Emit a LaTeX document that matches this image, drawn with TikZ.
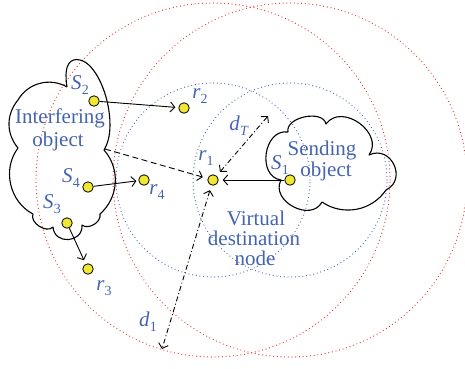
\documentclass[tikz,border=0pt]{standalone}
\usepackage{fontspec}
\setmainfont{Liberation Serif}
\usetikzlibrary{arrows.meta}
\definecolor{lblue}{RGB}{68,99,176}
\definecolor{dred}{RGB}{232,52,52}
\definecolor{dblue}{RGB}{72,104,196}
\definecolor{ydot}{RGB}{240,232,48}
\newcommand\lsub[2]{\textit{#1}\kern0.2pt\raisebox{-5pt}{\fontsize{14}{14}\selectfont #2}}
\begin{document}
\begin{tikzpicture}[x=1pt,y=-1pt,
  reddots/.style={draw=dred, line width=1.25pt, line cap=round, dash pattern=on 0pt off 3.7pt},
  bluedots/.style={draw=dblue, line width=1.25pt, line cap=round, dash pattern=on 0pt off 3.7pt},
  ydotnode/.style={circle, draw=black, fill=ydot, line width=0.8pt, minimum size=10.5pt, inner sep=0pt},
  lbl/.style={text=lblue, font=\fontsize{21}{21}\selectfont, inner sep=0pt},
  txt/.style={text=lblue, font=\fontsize{21}{20}\selectfont, inner sep=0pt, anchor=base},
  cloudline/.style={draw=black, line width=1.1pt, line join=round},
  tip/.style={-{Straight Barb[length=4.5pt,width=10pt]}},
  dtip/.style={{Straight Barb[length=4.5pt,width=10pt]}-{Straight Barb[length=4.5pt,width=10pt]}},
  conn/.style={line width=0.9pt, black},
  dashdot/.style={dash pattern=on 5pt off 2.5pt on 1pt off 2.5pt},
  dashline/.style={dash pattern=on 6pt off 3.5pt}
]
\clip (0,0) rectangle (465,368);
% named centres
\coordinate (cr1) at (213,180);
\coordinate (cS1) at (290,180);
% range circles
\draw[reddots] (cr1) circle[radius=177pt];
\draw[reddots] (cS1) circle[radius=177pt];
\draw[bluedots] (cr1) circle[radius=97pt];
\draw[bluedots] (cS1) circle[radius=97pt];
% interfering object cloud
\draw[cloudline] (67,87) .. controls (63,62) and (72,58) .. (80,60)
  .. controls (95,63) and (110,95) .. (110,125)
  .. controls (110,137) and (107,145) .. (104,150)
  to[bend left=45] (100,214)
  to[bend left=70] (82,225)
  to[bend left=90,looseness=1.6] (53,227)
  to[bend left=80] (33,214)
  to[bend left=50] (18,148)
  to[bend left=40] (18,100)
  to[bend left=45] (67,87);
% sending object cloud
\draw[cloudline] (288,132) to[bend left=90] (326,124)
  to[bend left=90,looseness=1.3] (369,155)
  to[bend left=90,looseness=1.6] (386,190)
  to[bend left=45] (322,202)
  to[bend left=90,looseness=1.3] (281,180)
  to[bend left=90,looseness=1.3] (288,132);
% arrow free ends
\coordinate (iobj) at (105,149);
\coordinate (dTend) at (268,116);
\coordinate (d1end) at (162,349);
% dots
\node[ydotnode] (r1) at (cr1) {};
\node[ydotnode] (S1) at (cS1) {};
\node[ydotnode] (S2) at (94,101) {};
\node[ydotnode] (r2) at (184,108) {};
\node[ydotnode] (S4) at (88,187) {};
\node[ydotnode] (r4) at (144,180) {};
\node[ydotnode] (S3) at (67,223) {};
\node[ydotnode] (r3) at (88,269) {};
% connectors
\draw[conn, tip, shorten >=3pt] (S2) -- (r2);
\draw[conn, tip, shorten >=2pt] (S4) -- (r4);
\draw[conn, tip, shorten >=4pt] (S3) -- (r3);
\draw[conn, tip, shorten >=4pt] (S1) -- (r1);
\draw[conn, tip, dashline, shorten >=5pt] (iobj) -- (r1);
\draw[conn, dtip, dashdot, shorten <=5pt] (r1) -- (dTend);
\draw[conn, dtip, dashdot, shorten <=5pt] (r1) -- (d1end);
% labels
\node[lbl] (lS2) at (80,85) {\lsub{S}{2}};
\node[lbl] (lr2) at (200,96) {\lsub{r}{2}};
\node[lbl] (ldT) at (239,126) {\lsub{d}{\textit{T}}};
\node[lbl] (lr1) at (206,158) {\lsub{r}{1}};
\node[lbl] (lS1) at (280,165) {\lsub{S}{1}};
\node[lbl] (lS4) at (71,178) {\lsub{S}{4}};
\node[lbl] (lr4) at (157,192) {\lsub{r}{4}};
\node[lbl] (lS3) at (52,204) {\lsub{S}{3}};
\node[lbl] (lr3) at (104,288) {\lsub{r}{3}};
\node[lbl] (ld1) at (148,322) {\lsub{d}{1}};
% texts
\node[txt] (t1) at (60,123) {Interfering};
\node[txt] (t2) at (58,146) {object};
\node[txt] (t3) at (322,155) {Sending};
\node[txt] (t4) at (326,176) {object};
\node[txt] (t5) at (256,225) {Virtual};
\node[txt] (t6) at (254,245) {destination};
\node[txt] (t7) at (255,265) {node};
\end{tikzpicture}
\end{document}
